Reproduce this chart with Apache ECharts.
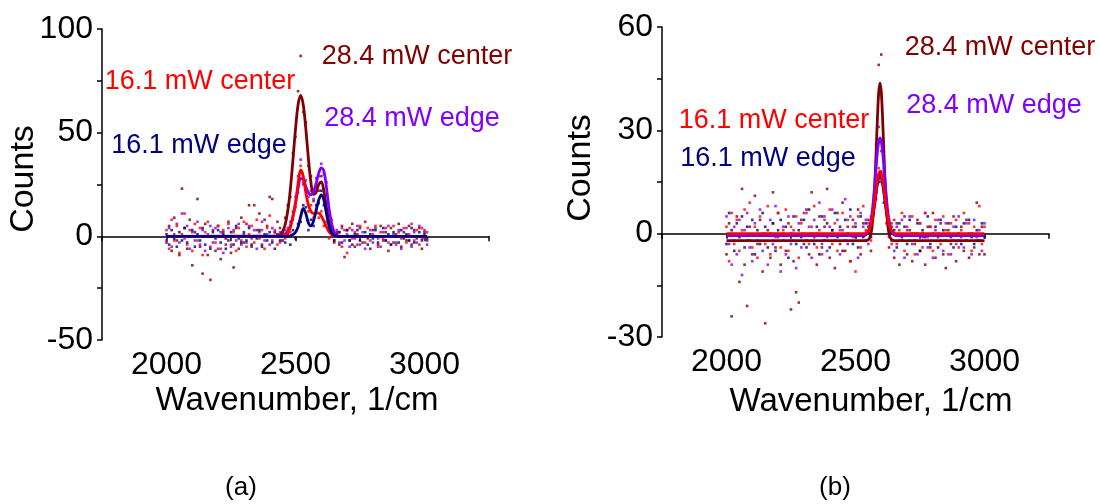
<!DOCTYPE html>
<html>
<head>
<meta charset="utf-8">
<script src="https://cdn.jsdelivr.net/npm/echarts@6/dist/echarts.min.js"></script>
<style>
html, body { margin: 0; padding: 0; background: #fff; }
#chart { width: 1100px; height: 504px; }
</style>
</head>
<body>
<div id="chart"></div>
<script>
var FONT = '"Liberation Sans", Arial, sans-serif';
var DARK_RED = '#800000';
var RED = '#ff0000';
var PURPLE = '#8000ff';
var NAVY = '#000080';

// ---- panel (a): measured points ----
var wnA = [2000,2010,2020,2030,2040,2050,2060,2070,2080,2090,
           2100,2110,2120,2130,2140,2150,2160,2170,2180,2190,
           2200,2210,2220,2230,2240,2250,2260,2270,2280,2290,
           2300,2310,2320,2330,2340,2350,2360,2370,2380,2390,
           2400,2410,2420,2430,2440,2450,2460,2470,2480,2490,
           2500,2510,2520,2530,2540,2550,2560,2570,2580,2590,
           2600,2610,2620,2630,2640,2650,2660,2670,2680,2690,
           2700,2710,2720,2730,2740,2750,2760,2770,2780,2790,
           2800,2810,2820,2830,2840,2850,2860,2870,2880,2890,
           2900,2910,2920,2930,2940,2950,2960,2970,2980,2990,
           3000,3010];
var darkDotsA = [-3,5,-7,9,-2,-9,23,4,-6,8,
                 -14,2,18,-5,-18,6,-9,-21,3,-7,
                 5,-11,2,-4,7,-8,-15,4,-6,9,
                 -3,6,15,-5,15,3,11,-4,8,5,
                 19,18,2,7,4,-2,9,15,19,40,
                 48,70,87,60,55,34,29,17,24,22,
                 29,19,16,4,6,-3,2,-4,5,-10,
                 3,-2,6,-5,1,4,-3,7,-1,-6,
                 3,0,-4,5,-2,2,-7,4,-3,1,
                 6,-5,2,-2,5,-4,3,-1,4,-6,
                 2,-2];
var redDotsA = [3,-6,8,-2,5,-8,1,11,-4,3,
                -7,6,-2,4,-9,2,7,-5,0,-3,
                5,-6,3,-1,6,-4,2,-7,4,-2,
                7,-5,1,5,-3,8,-1,3,-6,4,
                10,-2,3,-4,-3,2,-1,4,2,12,
                14,29,34,26,24,12,15,9,13,9,
                12,5,7,-1,3,-2,1,2,-5,3,
                -8,4,-1,2,-4,5,0,-3,4,-2,
                1,5,-5,2,-1,4,-3,0,5,-4,
                2,-1,4,-3,1,6,-2,3,-4,4,
                -1,2];
var purpleDotsA = [-2,4,-5,1,6,-3,11,-1,5,-6,
                   2,-2,7,-4,3,-7,1,5,-3,4,
                   -6,2,-8,-1,4,-5,3,-2,6,-4,
                   1,-3,5,-1,3,-6,2,7,-2,1,
                   -4,4,2,0,2,-2,3,1,7,8,
                   19,21,37,25,27,19,22,18,28,29,
                   35,30,26,11,8,0,3,-3,4,-2,
                   1,-5,3,-1,5,-4,2,-6,0,3,
                   -3,4,-1,-5,2,-2,5,-4,1,-3,
                   3,-6,0,4,-2,-5,2,-3,5,-1,
                   3,-4];
var navyDotsA = [1,-4,3,-1,-5,2,-2,4,-3,0,
                 3,-5,1,-2,4,-4,0,-6,2,-1,
                 3,-3,1,-6,-2,2,-4,5,-1,-3,
                 2,-2,4,-4,0,-1,3,-5,1,-2,
                 2,-3,-6,1,-2,1,-3,2,-4,3,
                 -1,6,7,15,14,3,8,5,15,16,
                 22,15,13,3,4,-2,1,2,-3,0,
                 3,-2,-4,1,3,-2,0,2,-4,1,
                 -1,3,-3,0,4,-2,1,-4,2,0,
                 -3,3,-1,1,-2,4,-3,0,2,-2,
                 1,-1];

// ---- panel (a): fitted curves ----
var fitXA = [2000,2420,2440,2450,2460,2470,2480,2490,2500,2510,2520,2530,2540,2550,
             2560,2570,2580,2590,2600,2610,2620,2630,2640,2650,2660,2670,2680,3010];
var darkFitA = [0,0.1,0.8,2.3,5.7,12.2,22.7,36.7,51.7,63.5,68,63.5,51.9,37.6,
                25.8,20.2,21.2,25.1,26.3,21.9,13.9,6.7,2.5,0.7,0.15,0,0,0];
var redFitA = [0,0,0.1,0.2,0.6,1.6,4.5,9.5,16,25.5,32,29,21,15,
               12,11,11.3,11.2,9.8,7.3,4.5,2.2,0.8,0.3,0,0,0,0];
var purpleFitA = [0,0,0.2,0.5,1.2,2.5,4.8,9.5,16,23,28,27.5,24,21,
                  20,21.5,25.5,30.5,33,31.5,23.5,13.5,6.3,2,0.6,0.1,0,0];
var navyFitA = [0,0,0,0,0,0,0.3,0.8,2,4.5,9.5,13.5,11,6.5,
                5,7.5,12.5,17.5,20,17.5,11,5,1.8,0.5,0.1,0,0,0];

// ---- panel (b): measured points ----
var wnB = [2000,2010,2020,2030,2040,2050,2060,2070,2080,2090,
           2100,2110,2120,2130,2140,2150,2160,2170,2180,2190,
           2200,2210,2220,2230,2240,2250,2260,2270,2280,2290,
           2300,2310,2320,2330,2340,2350,2360,2370,2380,2390,
           2400,2410,2420,2430,2440,2450,2460,2470,2480,2490,
           2500,2510,2520,2530,2540,2550,2560,2570,2580,2590,
           2600,2610,2620,2630,2640,2650,2660,2670,2680,2690,
           2700,2710,2720,2730,2740,2750,2760,2770,2780,2790,
           2800,2810,2820,2830,2840,2850,2860,2870,2880,2890,
           2900,2910,2920,2930,2940,2950,2960,2970,2980,2990,
           3000];
var darkDotsB = [-6,3,-24,-2,5,-14,13,-9,-21,2,
                 -6,11,-3,4,-11,-26,1,-7,12,-4,
                 6,-9,0,-5,3,-22,-8,-17,-20,4,
                 -3,7,-6,12,-1,-9,5,-4,2,13,
                 -7,1,-10,6,-3,9,-5,2,-8,4,
                 -1,7,-6,3,-2,4,-5,9,26,49,
                 52,17,8,-4,2,-7,3,-9,-2,5,
                 -6,1,-8,-3,4,-5,0,-9,2,-4,
                 6,-7,-1,3,-6,-10,1,-3,5,-8,
                 -2,2,-5,4,-7,0,-4,9,-6,2,
                 -6];
var redDotsB = [2,-8,6,-3,4,-5,1,7,-2,9,
                -4,2,-7,5,0,-3,8,-6,3,-1,
                6,-4,1,7,-5,2,-2,5,-7,3,
                0,6,-3,2,8,-4,1,-6,4,-1,
                7,-3,3,-5,1,6,-2,4,-8,2,
                -11,5,-4,8,1,3,-2,8,10,19,
                15,14,3,4,-3,4,-3,1,6,-5,
                2,-2,5,-6,0,3,-4,6,-1,2,
                -5,4,0,-3,5,1,-6,3,-2,4,
                -4,1,6,-2,3,-5,2,-1,8,-3,
                2];
var purpleDotsB = [5,-3,-9,2,-6,4,-12,1,6,-4,
                   -8,3,-2,7,-5,0,-9,4,-3,8,
                   -1,-11,2,-6,5,-3,1,-10,3,-4,
                   6,-2,2,-7,4,0,9,-3,5,-5,
                   2,7,-2,4,-6,1,10,-3,5,-1,
                   3,-7,6,2,4,-3,5,6,20,31,
                   24,19,10,-1,3,-5,2,-2,4,-7,
                   1,5,-3,0,-6,3,-1,6,-4,2,
                   -7,1,4,-2,-5,3,0,-6,2,-3,
                   5,-1,-4,3,0,-6,4,-2,1,-5,
                   3];
var navyDotsB = [-3,6,1,-5,3,-1,5,-4,2,-2,
                 4,-6,1,-3,6,2,-4,0,3,-5,
                 1,4,-2,2,-7,0,5,-3,1,-1,
                 4,-4,7,0,-3,2,-6,5,-2,3,
                 -4,1,6,-1,2,-5,4,0,7,-3,
                 2,-4,5,-1,3,2,-1,6,12,15,
                 18,9,6,2,-2,1,-4,3,-1,2,
                 -3,4,0,-2,3,-5,1,-1,5,-3,
                 0,2,-4,4,1,-2,3,-1,-4,2,
                 0,-3,3,-2,4,-1,-3,1,-2,3,
                 -1];

// ---- panel (b): fitted curves ----
var fitXB = [2000,2530,2540,2550,2555,2560,2565,2570,2575,2580,2585,2590,2595,
             2600,2605,2610,2615,2620,2625,2630,2635,2640,2650,2660,3000];
var darkFitB = [-2,-2,-2,-1.7,-1.2,0.0,2.6,7.3,14.5,23.8,33.5,41.0,43.8,
                41.0,33.5,23.8,14.5,7.3,2.6,0.0,-1.2,-1.7,-2,-2,-2];
var redFitB = [0,0,0.2,0.8,1.5,2.7,4.5,6.9,9.8,12.8,15.5,17.4,18.1,
               17.4,15.5,12.8,9.8,6.9,4.5,2.7,1.5,0.8,0.2,0,0];
var purpleFitB = [-0.5,-0.5,-0.2,0.7,1.9,3.8,6.5,10.3,14.8,19.5,23.8,26.7,27.8,
                  26.7,23.8,19.5,14.8,10.3,6.5,3.8,1.9,0.7,-0.2,-0.5,-0.5];
var navyFitB = [-0.5,-0.5,-0.3,0.3,1.0,2.1,3.9,6.2,8.9,11.9,14.5,16.3,17.0,
                16.3,14.5,11.9,8.9,6.2,3.9,2.1,1.0,0.3,-0.3,-0.5,-0.5];

var xTicks = [2000, 2500, 3000];

//************ BASE FUNCTIONS ************//
function pairs(xs, ys){
    return xs.map(function (x, i) { return [x, ys[i]]; });
}

function echart_xAxis(grid_index){
    return {
        type: 'value',
        gridIndex: grid_index,
        min: 1750,
        max: 3250,
        interval: 250,
        axisLine: { lineStyle: { color: '#000', width: 1.5 } },
        axisTick: { length: 5, lineStyle: { color: '#000', width: 1.5 } },
        axisLabel: {
            margin: 9,
            color: '#000',
            fontSize: 32,
            fontFamily: FONT,
            formatter: function (v) { return xTicks.indexOf(v) >= 0 ? String(v) : ''; }
        },
        splitLine: { show: false }
    };
}

function echart_yAxis(grid_index, min, max, interval, label_step){
    return {
        type: 'value',
        gridIndex: grid_index,
        min: min,
        max: max,
        interval: interval,
        axisLine: { show: true, lineStyle: { color: '#000', width: 1.5 } },
        axisTick: { show: true, length: 5, lineStyle: { color: '#000', width: 1.5 } },
        axisLabel: {
            margin: 9,
            color: '#000',
            fontSize: 32,
            fontFamily: FONT,
            formatter: function (v) { return v % label_step === 0 ? String(v) : ''; }
        },
        splitLine: { show: false }
    };
}

function dot_series(name, axis_index, xs, ys, color){
    return {
        type: 'scatter',
        name: name,
        xAxisIndex: axis_index,
        yAxisIndex: axis_index,
        data: pairs(xs, ys),
        symbol: 'rect',
        symbolSize: 2.6,
        itemStyle: { color: color },
        z: 2
    };
}

function fit_series(name, axis_index, xs, ys, color, z){
    return {
        type: 'line',
        name: name,
        xAxisIndex: axis_index,
        yAxisIndex: axis_index,
        data: pairs(xs, ys),
        showSymbol: false,
        smooth: 0.35,
        lineStyle: { color: color, width: 2.8 },
        z: z
    };
}

function label(text, x, y, color, size, rotate){
    return {
        type: 'text',
        x: x,
        y: y,
        rotation: rotate ? Math.PI / 2 : 0,
        style: {
            text: text,
            fill: color,
            font: size + 'px ' + FONT,
            align: 'center',
            verticalAlign: 'middle',
            textAlign: 'center',
            textVerticalAlign: 'middle'
        }
    };
}
//********** END BASE FUNCTIONS **********//

var chart = echarts.init(document.getElementById('chart'), null, { renderer: 'canvas' });

var options = {
    backgroundColor: '#fff',
    animation: false,
    grid: [
        { left: 102, top: 29, width: 387, height: 311, outerBoundsMode: 'none' },
        { left: 662, top: 27, width: 387, height: 310, outerBoundsMode: 'none' }
    ],
    xAxis: [echart_xAxis(0), echart_xAxis(1)],
    yAxis: [echart_yAxis(0, -50, 100, 25, 50), echart_yAxis(1, -30, 60, 15, 30)],
    series: [
        dot_series('28.4 mW center', 0, wnA, darkDotsA, DARK_RED),
        dot_series('28.4 mW edge', 0, wnA, purpleDotsA, PURPLE),
        dot_series('16.1 mW center', 0, wnA, redDotsA, RED),
        dot_series('16.1 mW edge', 0, wnA, navyDotsA, NAVY),
        fit_series('28.4 mW center fit', 0, fitXA, darkFitA, DARK_RED, 3),
        fit_series('28.4 mW edge fit', 0, fitXA, purpleFitA, PURPLE, 4),
        fit_series('16.1 mW center fit', 0, fitXA, redFitA, RED, 5),
        fit_series('16.1 mW edge fit', 0, fitXA, navyFitA, NAVY, 6),

        dot_series('28.4 mW center', 1, wnB, darkDotsB, DARK_RED),
        dot_series('28.4 mW edge', 1, wnB, purpleDotsB, PURPLE),
        dot_series('16.1 mW center', 1, wnB, redDotsB, RED),
        dot_series('16.1 mW edge', 1, wnB, navyDotsB, NAVY),
        fit_series('16.1 mW edge fit', 1, fitXB, navyFitB, NAVY, 3),
        fit_series('28.4 mW center fit', 1, fitXB, darkFitB, DARK_RED, 4),
        fit_series('28.4 mW edge fit', 1, fitXB, purpleFitB, PURPLE, 5),
        fit_series('16.1 mW center fit', 1, fitXB, redFitB, RED, 6)
    ],
    graphic: [
        label('Counts', 24, 179, '#000', 34, true),
        label('Wavenumber, 1/cm', 297, 401, '#000', 33),
        label('Counts', 581, 168, '#000', 34, true),
        label('Wavenumber, 1/cm', 871, 402, '#000', 33),

        label('28.4 mW center', 417, 57, DARK_RED, 27),
        label('16.1 mW center', 200, 82, RED, 27),
        label('28.4 mW edge', 412, 119, PURPLE, 27),
        label('16.1 mW edge', 199, 146, NAVY, 27),

        label('28.4 mW center', 1000, 48, DARK_RED, 27),
        label('28.4 mW edge', 994, 106, PURPLE, 27),
        label('16.1 mW center', 774, 121, RED, 27),
        label('16.1 mW edge', 768, 159, NAVY, 27),

        label('(a)', 241, 488, '#000', 26),
        label('(b)', 835, 488, '#000', 26)
    ]
};

chart.setOption(options);
</script>
</body>
</html>
